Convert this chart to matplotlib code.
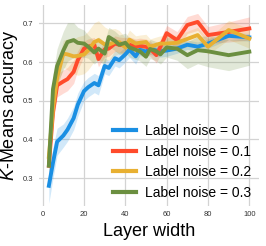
import matplotlib
matplotlib.use("Agg")
import matplotlib.pyplot as plt
import numpy as np

# layer widths
widths = [3, 5, 7, 10, 12, 15, 17, 20, 22, 25, 27, 30, 32, 35, 37, 40, 42, 45, 47, 50,
          52, 55, 57, 60, 65, 70, 75, 80, 90, 100]

acc_noise_0 = [0.280, 0.340, 0.394, 0.410, 0.425, 0.455, 0.490, 0.525, 0.535, 0.546,
               0.540, 0.590, 0.585, 0.610, 0.605, 0.620, 0.632, 0.615, 0.632, 0.627,
               0.635, 0.630, 0.628, 0.630, 0.635, 0.645, 0.640, 0.648, 0.668, 0.664]
std_noise_0 = [0.045, 0.040, 0.035, 0.030, 0.030, 0.030, 0.030, 0.025, 0.025, 0.025,
               0.025, 0.020, 0.020, 0.020, 0.020, 0.020, 0.020, 0.020, 0.015, 0.015,
               0.015, 0.015, 0.015, 0.015, 0.012, 0.012, 0.012, 0.012, 0.010, 0.010]

acc_noise_1 = [0.332, 0.470, 0.540, 0.550, 0.556, 0.575, 0.605, 0.635, 0.640, 0.644,
               0.608, 0.633, 0.635, 0.648, 0.645, 0.643, 0.645, 0.640, 0.642, 0.640,
               0.635, 0.618, 0.640, 0.675, 0.657, 0.696, 0.704, 0.670, 0.678, 0.687]
std_noise_1 = [0.020, 0.030, 0.030, 0.030, 0.030, 0.030, 0.025, 0.020, 0.020, 0.020,
               0.020, 0.020, 0.020, 0.020, 0.020, 0.020, 0.020, 0.020, 0.020, 0.020,
               0.020, 0.020, 0.020, 0.020, 0.022, 0.022, 0.022, 0.022, 0.026, 0.030]

acc_noise_2 = [0.355, 0.480, 0.560, 0.622, 0.620, 0.615, 0.616, 0.620, 0.630, 0.652,
               0.657, 0.646, 0.645, 0.652, 0.652, 0.638, 0.658, 0.648, 0.650, 0.652,
               0.640, 0.645, 0.648, 0.648, 0.650, 0.660, 0.670, 0.640, 0.683, 0.661]
std_noise_2 = [0.030, 0.030, 0.030, 0.035, 0.040, 0.045, 0.050, 0.050, 0.050, 0.050,
               0.050, 0.045, 0.040, 0.035, 0.030, 0.025, 0.025, 0.020, 0.020, 0.020,
               0.020, 0.020, 0.020, 0.020, 0.020, 0.020, 0.020, 0.020, 0.025, 0.025]

acc_noise_3 = [0.332, 0.530, 0.590, 0.630, 0.652, 0.657, 0.650, 0.648, 0.640, 0.625,
               0.635, 0.622, 0.665, 0.655, 0.645, 0.650, 0.638, 0.632, 0.628, 0.614,
               0.634, 0.628, 0.620, 0.638, 0.635, 0.618, 0.631, 0.628, 0.618, 0.627]
std_noise_3 = [0.030, 0.040, 0.045, 0.050, 0.050, 0.045, 0.040, 0.035, 0.030, 0.030,
               0.030, 0.030, 0.025, 0.025, 0.025, 0.025, 0.025, 0.025, 0.025, 0.025,
               0.025, 0.025, 0.025, 0.025, 0.030, 0.035, 0.035, 0.040, 0.040, 0.035]

labels = ["Label noise = 0", "Label noise = 0.1", "Label noise = 0.2", "Label noise = 0.3"]
colors = ["#1a8fe3", "#ff4b2b", "#e8b032", "#6b8f40"]

plt.rcParams["font.family"] = ["Liberation Sans", "DejaVu Sans"]
plt.rcParams["mathtext.fontset"] = "custom"
plt.rcParams["mathtext.it"] = "Liberation Sans:italic"
plt.rcParams["mathtext.rm"] = "Liberation Sans"

fig = plt.figure(figsize=(2.66, 2.46), dpi=100)
ax = fig.add_axes([0.146, 0.163, 0.829, 0.817])

series = [(acc_noise_0, std_noise_0), (acc_noise_1, std_noise_1),
          (acc_noise_2, std_noise_2), (acc_noise_3, std_noise_3)]
x = np.array(widths)
for (m, s), c, lab in zip(series, colors, labels):
    m = np.array(m)
    s = np.array(s)
    ax.fill_between(x, m - s, m + s, color=c, alpha=0.2, linewidth=0)
    ax.plot(x, m, color=c, linewidth=2.8, label=lab)

ax.set_xlim(-1.85, 104.85)
ax.set_ylim(0.228, 0.748)
ax.set_xticks([0, 20, 40, 60, 80, 100])
ax.set_yticks([0.3, 0.4, 0.5, 0.6, 0.7])
ax.grid(True, color="#d3d3d3", linewidth=0.9)
ax.set_axisbelow(True)
for sp in ax.spines.values():
    sp.set_visible(False)
ax.tick_params(length=0, labelsize=5.5, labelcolor="#333333", pad=4)

ax.set_xlabel("Layer width", fontsize=13, labelpad=3)
ax.set_ylabel("$K$-Means accuracy", fontsize=13, labelpad=2)

leg = ax.legend(loc="lower right", bbox_to_anchor=(0.965, 0.03), frameon=False,
                fontsize=10, handlelength=1.6, handletextpad=0.7,
                labelspacing=0.48, borderaxespad=0.0, borderpad=0.0)
for h in leg.get_lines():
    h.set_linewidth(3)

plt.savefig("out.png", dpi=100)
